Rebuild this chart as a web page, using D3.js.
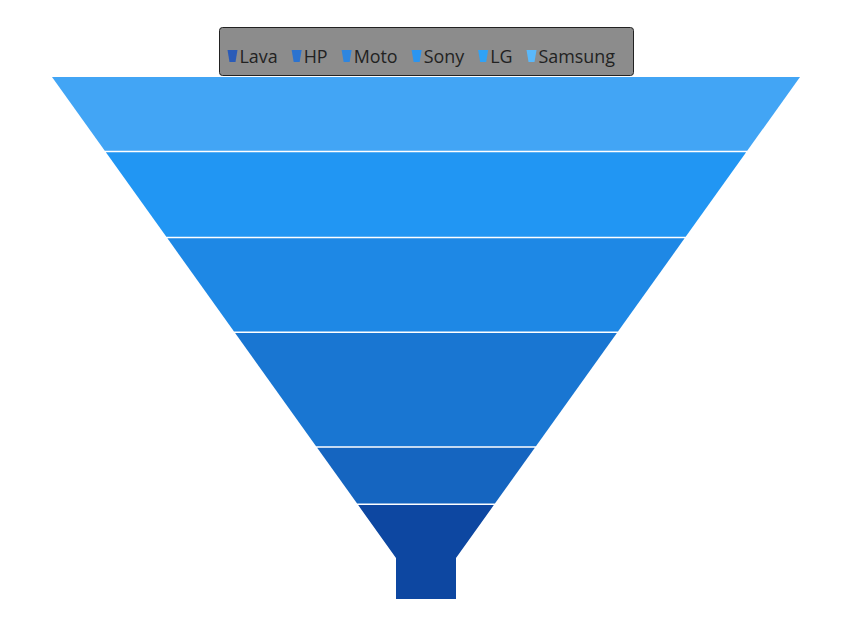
<!DOCTYPE html>
<html lang="en">
<head>
<meta charset="utf-8">
<title>Funnel chart</title>
<script src="https://cdn.jsdelivr.net/npm/d3@7"></script>
<style>
  body { margin: 0; background: #fff; }
  .legend text { font-family: "Open Sans", sans-serif; font-size: 17.9px; fill: #222; }
</style>
</head>
<body>
<div id="chart"></div>
<script>
// data, top of funnel is the last category
var categories = ["Lava", "HP", "Moto", "Sony", "LG", "Samsung"];
var values = [33, 20, 40, 33, 30, 26];
var colors = ["#0D47A1", "#1565C0", "#1976D2", "#1E88E5", "#2196F3", "#42A5F5"];
var legendColors = ["#2A5BB8", "#2B73D0", "#2E86E0", "#2B95F0", "#30A2F6", "#5AB8FA"];

var W = 842, H = 642;
var yTop = 77, yBottom = 599, cx = 426;
var topHalf = 374, neckHalf = 30, neckH = 41;
var gap = 1.5;

var svg = d3.select("#chart").append("svg")
  .attr("width", W).attr("height", H);

// stack from top: Samsung first
var order = d3.range(categories.length).reverse();
var total = d3.sum(values);
var y = d3.scaleLinear().domain([0, total]).range([yTop, yBottom]);
var neckY = yBottom - neckH;
var half = d3.scaleLinear().domain([yTop, neckY]).range([topHalf, neckHalf]).clamp(true);

var segs = [];
var acc = 0;
order.forEach(function(i) {
  segs.push({i: i, y0: y(acc), y1: y(acc + values[i])});
  acc += values[i];
});

function segPath(s) {
  var a = s.y0 + (s.i === order[0] ? 0 : gap / 2);
  var b = s.y1 - (s.i === order[order.length - 1] ? 0 : gap / 2);
  var pts = [[cx - half(a), a], [cx + half(a), a]];
  if (a < neckY && b > neckY) pts.push([cx + neckHalf, neckY]);
  pts.push([cx + half(b), b], [cx - half(b), b]);
  if (a < neckY && b > neckY) pts.push([cx - neckHalf, neckY]);
  return "M" + pts.map(function(p) { return p.join(","); }).join("L") + "Z";
}

svg.append("g").selectAll("path")
  .data(segs).enter().append("path")
  .attr("d", segPath)
  .attr("fill", function(d) { return colors[d.i]; });

// legend
var lg = svg.append("g").attr("class", "legend");
lg.append("rect")
  .attr("x", 219.5).attr("y", 27.5)
  .attr("width", 414).attr("height", 48)
  .attr("rx", 3)
  .attr("fill", "#8C8C8C")
  .attr("stroke", "#222").attr("stroke-width", 1);

var x = 227.5;
categories.forEach(function(c, i) {
  var item = lg.append("g").attr("transform", "translate(" + x + ",0)");
  item.append("path")
    .attr("d", "M0,50L10,50L8,62L2,62Z")
    .attr("fill", legendColors[i]);
  var t = item.append("text").attr("x", 12).attr("y", 63).text(c);
  x += 12 + t.node().getComputedTextLength() + 14;
});
</script>
</body>
</html>
